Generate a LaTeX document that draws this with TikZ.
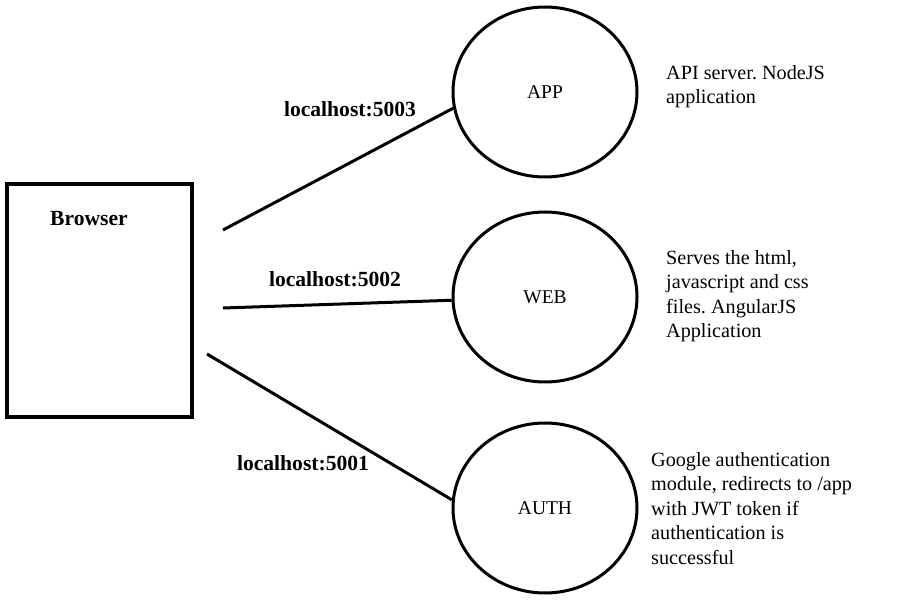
\documentclass[tikz,border=0pt]{standalone}
\usepackage{fontspec}
\setmainfont{Liberation Serif}
\usepackage{tikz}
\usetikzlibrary{shapes.geometric}
\frenchspacing

\tikzset{
    server/.style={draw, ellipse, line width=3pt, minimum width=184pt, minimum height=170pt, inner sep=0pt, font=\fontsize{19.5}{22}\selectfont},
    portlbl/.style={anchor=base, inner sep=0pt, font=\fontsize{21.6}{24}\selectfont\bfseries},
    desc/.style={anchor=north west, align=left, inner sep=0pt, font=\fontsize{20.2}{24.5}\selectfont},
    wire/.style={line width=3pt}
}

\begin{document}
\begin{tikzpicture}[x=1pt, y=-1pt]
    \useasboundingbox (0,0) rectangle (900,609);

    \node[draw, line width=3.2pt, minimum width=185pt, minimum height=233pt, inner sep=0pt] (browser) at (99.5,300.5) {};
    \node[portlbl] (browsertxt) at (89,226) {Browser};

    \node[server] (app) at (545,92) {APP};
    \node[server] (web) at (545,297) {WEB};
    \node[server] (auth) at (545,508) {AUTH};

    \coordinate (append) at (223,230);
    \coordinate (webend) at (223,308);
    \coordinate (authend) at (207,354);

    \draw[wire] (append) -- (app.190);
    \draw[wire] (webend) -- (web.182);
    \draw[wire] (authend) -- (auth.175);

    \node[portlbl] (appport) at (350,117) {localhost:5003};
    \node[portlbl] (webport) at (335,287) {localhost:5002};
    \node[portlbl] (authport) at (303,471) {localhost:5001};

    \node[desc] (appdesc) at (666,65) {API server. NodeJS\\application};
    \node[desc] (webdesc) at (666,250) {Serves the html,\\javascript and css\\files. AngularJS\\Application};
    \node[desc] (authdesc) at (651,452) {Google authentication\\module, redirects to /app\\with JWT token if\\authentication is\\successful};
\end{tikzpicture}
\end{document}
